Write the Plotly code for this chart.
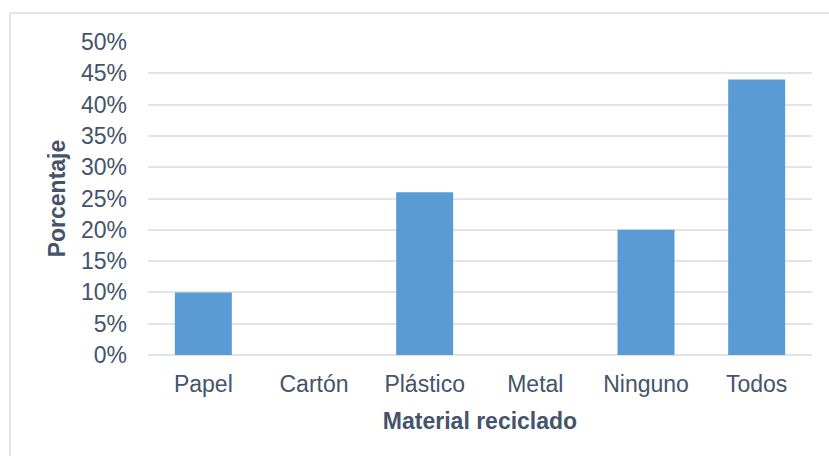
import plotly.graph_objects as go

categories = ["Papel", "Cartón", "Plástico", "Metal", "Ninguno", "Todos"]
values = [0.10, 0.0, 0.26, 0.0, 0.20, 0.44]
tick_vals = [0, 0.05, 0.10, 0.15, 0.20, 0.25, 0.30, 0.35, 0.40, 0.45, 0.50]

W, H = 829, 456
L, R, T, B = 148, 17, 42, 101
pw, ph = W - L - R, H - T - B

text_color = "#44546A"
grid_color = "#E1E5EB"

fig = go.Figure(go.Bar(
    x=categories, y=values, width=0.515,
    marker=dict(color="#5A9BD5", line=dict(width=0)),
))

fig.update_layout(
    width=W, height=H,
    margin=dict(l=L, r=R, t=T, b=B),
    paper_bgcolor="white", plot_bgcolor="white",
    font=dict(family="Liberation Sans, Arial, sans-serif", size=23, color=text_color),
    showlegend=False,
    xaxis=dict(
        title=dict(text="<b>Material reciclado</b>", standoff=16,
                   font=dict(size=23, color=text_color)),
        showgrid=False, zeroline=False, showline=False,
        ticklabelstandoff=13,
        tickfont=dict(size=23, color=text_color),
    ),
    yaxis=dict(
        title=dict(text="<b>Porcentaje</b>", standoff=8,
                   font=dict(size=23, color=text_color)),
        range=[0, 0.5], tickvals=tick_vals, tickformat=".0%",
        showgrid=True, gridcolor=grid_color, gridwidth=2,
        zeroline=True, zerolinecolor=grid_color, zerolinewidth=2,
        showline=False, ticklabelstandoff=20,
        tickfont=dict(size=23, color=text_color),
    ),
    shapes=[dict(
        type="rect", xref="paper", yref="paper",
        x0=(10 - L) / pw, x1=(W + 20 - L) / pw,
        y0=-(H + 20 - T - ph) / ph, y1=(H - B - 13) / ph,
        line=dict(color="#D9DDE3", width=1.5), fillcolor="rgba(0,0,0,0)",
        layer="below",
    )],
)

fig.write_html("out.html")
